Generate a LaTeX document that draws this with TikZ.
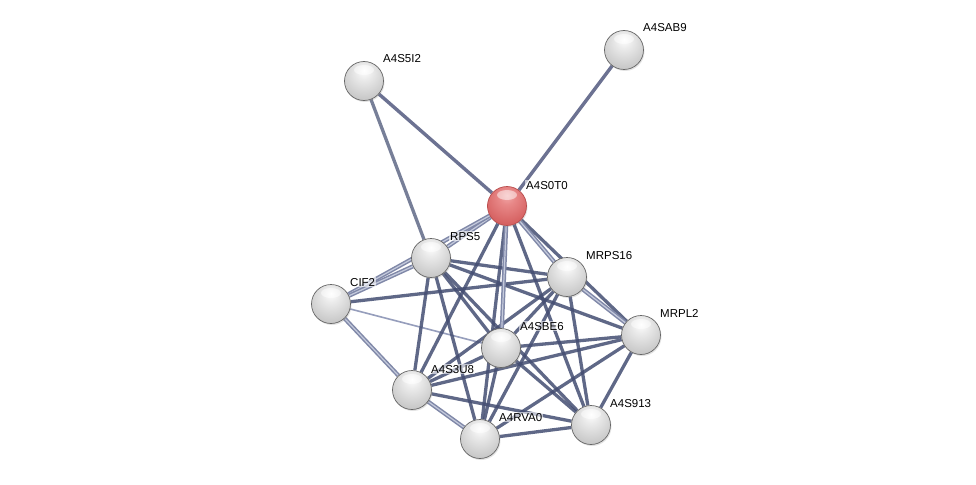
\documentclass[tikz,border=0pt]{standalone}
\usepackage{fontspec}
\setmainfont{Liberation Sans}
\usetikzlibrary{shadows}
\pgfdeclarelayer{edges}
\pgfsetlayers{edges,main}
\pgfdeclareradialshading{strball}{\pgfpoint{0bp}{14bp}}{%
  color(0bp)=(white); color(10bp)=(white!92!black); color(30bp)=(white!79!black);
  color(46bp)=(white!68!black); color(56bp)=(white!56!black); color(70bp)=(white!48!black)}
\pgfdeclareradialshading{strred}{\pgfpoint{0bp}{14bp}}{%
  color(0bp)=(rgb,255:red,242;green,170;blue,170); color(10bp)=(rgb,255:red,232;green,136;blue,136);
  color(30bp)=(rgb,255:red,214;green,98;blue,98); color(46bp)=(rgb,255:red,192;green,72;blue,72);
  color(56bp)=(rgb,255:red,165;green,52;blue,52); color(70bp)=(rgb,255:red,140;green,40;blue,40)}
\definecolor{edark}{RGB}{68,78,114}
\definecolor{emid}{RGB}{108,114,146}
\definecolor{elight}{RGB}{128,136,168}
\definecolor{einner}{RGB}{196,202,220}
\definecolor{ethin}{RGB}{150,158,188}
\tikzset{
  ball/.style={circle, minimum size=39pt, inner sep=0pt, shading=strball, draw=black!60, line width=0.7pt,
    drop shadow={opacity=0.22, shadow xshift=1pt, shadow yshift=-1.5pt},
    path picture={\fill[white, opacity=0.5] ([yshift=11pt]path picture bounding box.center) ellipse [x radius=10pt, y radius=5pt];}},
  redball/.style={ball, shading=strred, draw=black!40!red!70},
  lbl/.style={anchor=base west, font=\fontsize{11.5}{13}\selectfont, fill=white, fill opacity=0.6, text opacity=1, inner sep=1pt},
  strong/.style={draw=edark, line width=3.3pt, draw opacity=0.85},
  medium/.style={draw=emid, line width=3.4pt},
  dbl/.style={draw=elight, line width=1.5pt, double=einner, double distance=1.2pt},
  thin/.style={draw=ethin, line width=1.6pt}
}
\begin{document}
\begin{tikzpicture}[x=1pt, y=-1pt]
\useasboundingbox (0,0) rectangle (976,484);
% nodes
\node[ball] (AB9) at (624,50) {};
\node[ball] (SI2) at (364,81) {};
\node[redball] (T0) at (507,206) {};
\node[ball] (RPS5) at (431,258) {};
\node[ball] (MRPS16) at (567,277) {};
\node[ball] (CIF2) at (331,304) {};
\node[ball] (MRPL2) at (641,335) {};
\node[ball] (BE6) at (501,348) {};
\node[ball] (U8) at (412,390) {};
\node[ball] (S913) at (591,425) {};
\node[ball] (VA0) at (480,439) {};
% labels
\node[lbl] (lAB9) at (642,32) {A4SAB9};
\node[lbl] (lSI2) at (382,63) {A4S5I2};
\node[lbl] (lT0) at (525,189) {A4S0T0};
\node[lbl] (lRPS5) at (449,240) {RPS5};
\node[lbl] (lMRPS16) at (585,259) {MRPS16};
\node[lbl] (lCIF2) at (349,286) {CIF2};
\node[lbl] (lMRPL2) at (659,317) {MRPL2};
\node[lbl] (lBE6) at (519,330) {A4SBE6};
\node[lbl] (lU8) at (430,373) {A4S3U8};
\node[lbl] (lS913) at (609,407) {A4S913};
\node[lbl] (lVA0) at (498,421) {A4RVA0};
% edges
\begin{pgfonlayer}{edges}
\fill[white] (0,0) rectangle (976,484);
\draw[medium] (SI2) -- (T0);
\draw[medium] (AB9) -- (T0);
\draw[strong, draw=edark!85!white] (SI2) -- (RPS5);
\draw[thin] (CIF2) -- (BE6);
\foreach \a/\b in {T0/MRPL2, T0/U8, T0/VA0, T0/S913, CIF2/MRPS16,
  RPS5/MRPS16, RPS5/MRPL2, RPS5/BE6, RPS5/U8, RPS5/VA0, RPS5/S913,
  MRPS16/BE6, MRPS16/U8, MRPS16/VA0, MRPS16/S913,
  MRPL2/BE6, MRPL2/U8, MRPL2/VA0, MRPL2/S913,
  BE6/U8, BE6/VA0, BE6/S913, U8/S913, VA0/S913}
  \draw[strong] (\a) -- (\b);
\foreach \a/\b in {T0/RPS5, T0/CIF2, CIF2/RPS5, CIF2/U8, T0/MRPS16, T0/BE6, MRPS16/MRPL2, U8/VA0}
  \draw[dbl] (\a) -- (\b);
\end{pgfonlayer}
\end{tikzpicture}
\end{document}
